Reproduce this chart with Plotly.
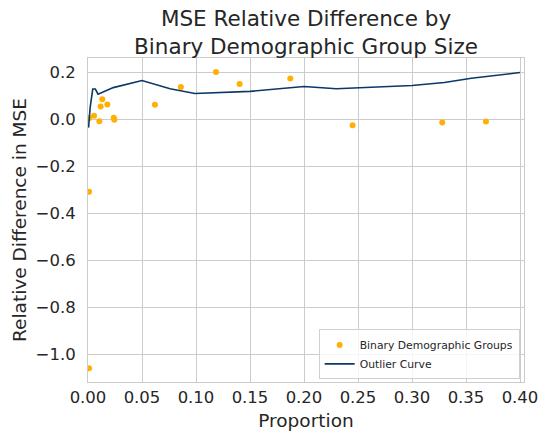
import plotly.graph_objects as go

group_x = [0.001, 0.0056, 0.0105, 0.0117, 0.0132, 0.0179, 0.0238, 0.0244, 0.062, 0.086,
           0.1185, 0.1404, 0.1873, 0.245, 0.328, 0.3685, 0.001, 0.001]
group_y = [0.004, 0.014, -0.009, 0.054, 0.085, 0.062, 0.006, -0.003, 0.061, 0.137,
           0.200, 0.149, 0.173, -0.026, -0.014, -0.010, -0.309, -1.060]

curve_x = [0.0005, 0.002, 0.0044, 0.0068, 0.0093, 0.0234, 0.05, 0.076, 0.099, 0.15,
           0.2, 0.23, 0.30, 0.33, 0.355, 0.40]
curve_y = [-0.036, 0.05, 0.128, 0.128, 0.106, 0.134, 0.164, 0.129, 0.109, 0.118,
           0.139, 0.129, 0.143, 0.156, 0.174, 0.198]

x_ticks = [0.0, 0.05, 0.10, 0.15, 0.20, 0.25, 0.30, 0.35, 0.40]
y_ticks = [0.2, 0.0, -0.2, -0.4, -0.6, -0.8, -1.0]

fig = go.Figure()
fig.add_trace(go.Scatter(x=group_x, y=group_y, mode="markers",
                         name="Binary Demographic Groups",
                         marker=dict(color="#FFB000", size=6)))
fig.add_trace(go.Scatter(x=curve_x, y=curve_y, mode="lines", name="Outlier Curve",
                         line=dict(color="#0B3866", width=1.6)))

font = "DejaVu Sans"
fig.update_layout(
    width=545, height=434,
    margin=dict(l=88, r=21, t=58, b=52, autoexpand=False),
    paper_bgcolor="white", plot_bgcolor="white",
    font=dict(family=font, color="#262626"),
    title=dict(text="MSE Relative Difference by<br>Binary Demographic Group Size",
               x=0.5615, xanchor="center", xref="container",
               y=1 - 26 / 434, yanchor="top", yref="container",
               font=dict(size=21.5, family=font, color="#262626")),
    showlegend=True,
    legend=dict(x=0.99, y=0.008, xanchor="right", yanchor="bottom",
                bgcolor="rgba(255,255,255,0.8)", bordercolor="#d0d0d0", borderwidth=1,
                font=dict(size=10.8, family=font, color="#262626"),
                tracegroupgap=0),
)
fig.update_xaxes(range=[0, 0.4037], tickvals=x_ticks,
                 ticktext=[f"{v:.2f}" for v in x_ticks], automargin=False,
                 showgrid=True, gridcolor="#cccccc", gridwidth=1,
                 zeroline=False, showline=True, linecolor="#cccccc", linewidth=1, mirror=True,
                 ticks="", tickfont=dict(size=16.5, family=font, color="#262626"),
                 title=dict(text="Proportion", font=dict(size=18.5, family=font, color="#262626"),
                            standoff=8))
fig.update_yaxes(range=[-1.118, 0.26], tickvals=y_ticks,
                 ticktext=[(f"{v:.1f}").replace("-", "−") for v in y_ticks], automargin=False,
                 showgrid=True, gridcolor="#cccccc", gridwidth=1,
                 zeroline=False, showline=True, linecolor="#cccccc", linewidth=1, mirror=True,
                 ticks="", ticklabelstandoff=8,
                 tickfont=dict(size=16.5, family=font, color="#262626"),
                 title=dict(text="Relative Difference in MSE",
                            font=dict(size=18.5, family=font, color="#262626"), standoff=4))

fig.write_html("out.html", config={"displayModeBar": False},
               post_script="document.body.style.margin='0';")
